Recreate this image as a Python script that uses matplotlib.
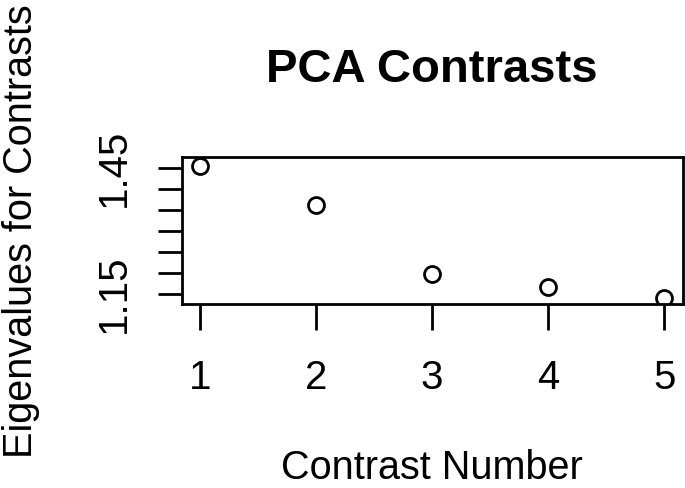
import numpy as np
import matplotlib.pyplot as plt

plt.rcParams['font.family'] = ['Liberation Sans', 'DejaVu Sans']

contrast = [1, 2, 3, 4, 5]
eigenvalues = [1.4555, 1.3626, 1.1976, 1.1667, 1.1405]
yticks = [1.15, 1.20, 1.25, 1.30, 1.35, 1.40, 1.45]
ytick_labels = ['1.15', '', '', '', '', '', '1.45']

fig = plt.figure(figsize=(6.85, 4.88), dpi=100)
ax = fig.add_axes([181.7 / 685, 1 - 304.3 / 488, 501 / 685, 147 / 488])

ax.plot(contrast, eigenvalues, 'o', mfc='none', mec='black', ms=11.5, mew=2)

ax.set_xlim(0.84, 5.16)
ax.set_ylim(1.126, 1.476)
ax.set_xticks(contrast)
ax.set_xticklabels([str(c) for c in contrast])
ax.set_yticks(yticks)
ax.set_yticklabels(ytick_labels, rotation=90, va='center')

for s in ax.spines.values():
    s.set_linewidth(2)
ax.tick_params(axis='x', length=18.7, width=2, labelsize=29, pad=20.5)
ax.tick_params(axis='y', length=17, width=2, labelsize=29, pad=18)

ax.set_xlabel('Contrast Number', fontsize=28.5, va='baseline')
ax.xaxis.set_label_coords(0.5, -(479.5 - 304.3) / 147)
ax.set_ylabel('Eigenvalues for Contrasts', fontsize=28.5, va='baseline')
ax.yaxis.set_label_coords(-(181.7 - 31.7) / 501, 0.5)

fig.text(432 / 685, 1 - 81.7 / 488, 'PCA Contrasts', fontsize=34, fontweight='bold',
         ha='center', va='baseline')

fig.savefig('out.png', dpi=100)
